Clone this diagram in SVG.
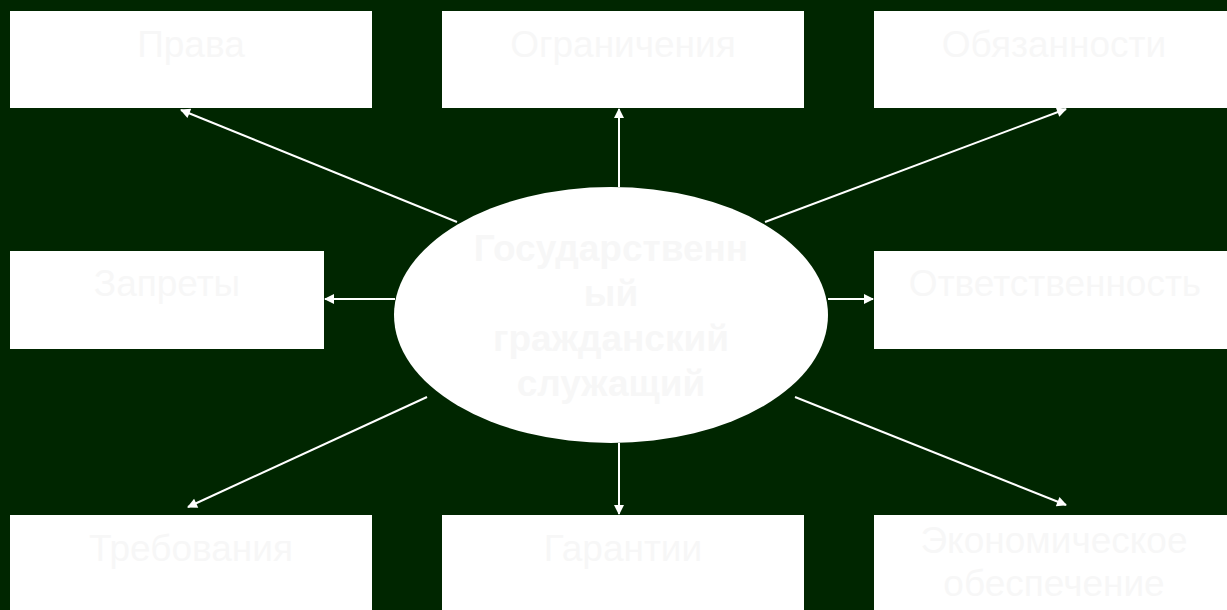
<svg xmlns="http://www.w3.org/2000/svg" width="1227" height="610" viewBox="0 0 1227 610">
<style>
.box{fill:#ffffff}
.lbl{font-family:"Liberation Sans",Arial,sans-serif;font-size:37px;fill:#f7f7f7;text-anchor:middle}
.ctr{font-family:"Liberation Sans",Arial,sans-serif;font-size:37px;font-weight:bold;fill:#f7f7f7;text-anchor:middle}
.con{stroke:#ffffff;stroke-width:2;fill:none;marker-end:url(#ah)}
</style>
<defs>
<marker id="ah" viewBox="0 0 10 10" refX="9" refY="5" markerWidth="6" markerHeight="5" markerUnits="strokeWidth" orient="auto">
<path d="M0,0 L10,5 L0,10 z" fill="#ffffff"/>
</marker>
</defs>
<rect width="1227" height="610" fill="#002600"/>
<g id="connectors">
<line class="con" x1="457" y1="222" x2="181" y2="110"/>
<line class="con" x1="619" y1="187" x2="619" y2="109"/>
<line class="con" x1="765" y1="222" x2="1066" y2="109"/>
<line class="con" x1="395" y1="299" x2="325" y2="299"/>
<line class="con" x1="828" y1="299" x2="873" y2="299"/>
<line class="con" x1="427" y1="397" x2="188" y2="507"/>
<line class="con" x1="619" y1="443" x2="619" y2="514"/>
<line class="con" x1="795" y1="397" x2="1066" y2="505"/>
</g>
<g id="n-prava"><rect class="box" x="10" y="11" width="362" height="97"/><text class="lbl" x="191" y="57">Права</text></g>
<g id="n-ogranicheniya"><rect class="box" x="442" y="11" width="362" height="97"/><text class="lbl" x="623" y="57">Ограничения</text></g>
<g id="n-obyazannosti"><rect class="box" x="874" y="11" width="353" height="97"/><text class="lbl" x="1054" y="57">Обязанности</text></g>
<g id="n-zaprety"><rect class="box" x="10" y="251" width="314" height="98"/><text class="lbl" x="167" y="296">Запреты</text></g>
<g id="n-otvetstvennost"><rect class="box" x="874" y="251" width="353" height="98"/><text class="lbl" x="1055" y="296">Ответственность</text></g>
<g id="n-trebovaniya"><rect class="box" x="10" y="515" width="362" height="95"/><text class="lbl" x="191" y="561">Требования</text></g>
<g id="n-garantii"><rect class="box" x="442" y="515" width="362" height="95"/><text class="lbl" x="623" y="561">Гарантии</text></g>
<g id="n-ekonom"><rect class="box" x="874" y="515" width="353" height="95"/><text class="lbl" x="1054" y="553">Экономическое</text><text class="lbl" x="1054" y="596">обеспечение</text></g>
<g id="n-center"><ellipse cx="611" cy="315" rx="217" ry="128" fill="#ffffff"/>
<text class="ctr" x="611" y="261">Государственн</text>
<text class="ctr" x="611" y="306">ый</text>
<text class="ctr" x="611" y="351">гражданский</text>
<text class="ctr" x="611" y="396">служащий</text></g>
</svg>
